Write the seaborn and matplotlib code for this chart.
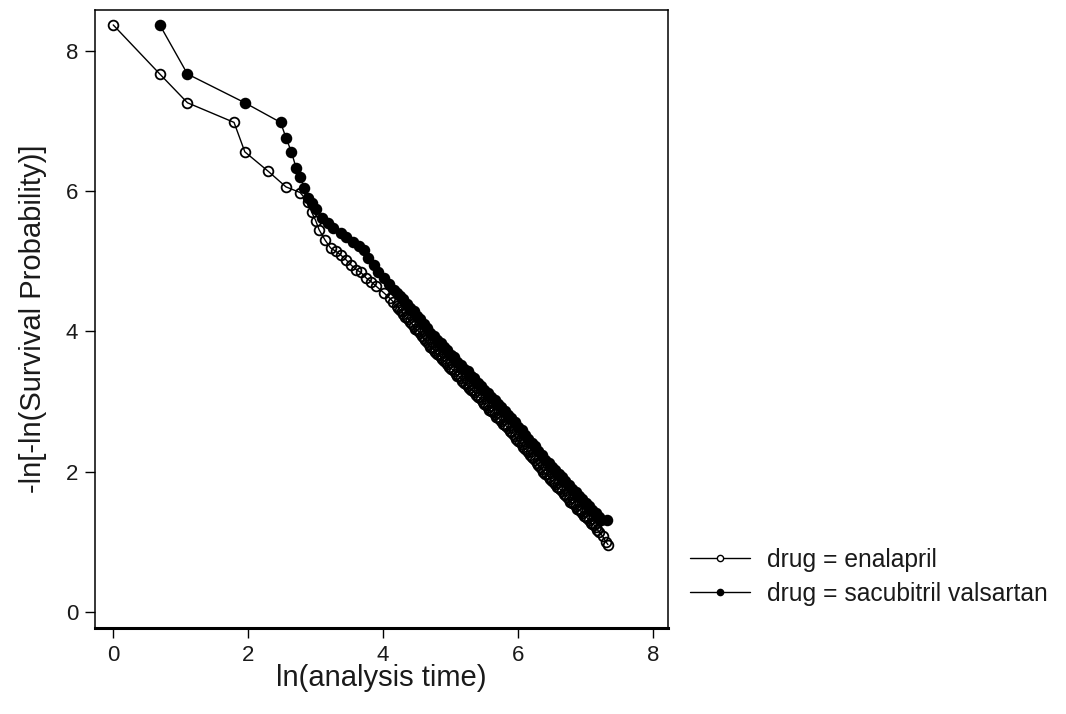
import matplotlib
matplotlib.use("Agg")
import matplotlib.pyplot as plt
from matplotlib.lines import Line2D
import seaborn as sns
import pandas as pd

# ---- data ----
enalapril_x = [0.00, 0.69, 1.10, 1.79, 1.95, 2.30, 2.56, 2.77, 2.88, 2.94, 3.00, 3.05, 3.14, 3.22,
               3.30, 3.37, 3.45, 3.52, 3.60, 3.67, 3.75, 3.82, 3.90, 4.01, 4.10, 4.15,
               4.20, 4.25, 4.30, 4.35, 4.40, 4.45, 4.50, 4.55, 4.60, 4.65, 4.70, 4.75, 4.80, 4.85,
               4.90, 4.95, 5.00, 5.05, 5.10, 5.15, 5.20, 5.25, 5.30, 5.35, 5.40, 5.45, 5.50, 5.55,
               5.60, 5.65, 5.70, 5.75, 5.80, 5.85, 5.90, 5.95, 6.00, 6.05, 6.10, 6.15, 6.20, 6.25,
               6.30, 6.35, 6.40, 6.45, 6.50, 6.55, 6.60, 6.65, 6.70, 6.75, 6.80, 6.85, 6.90, 6.95,
               7.00, 7.05, 7.10, 7.15, 7.20, 7.25, 7.30, 7.33]
enalapril_y = [8.37, 7.67, 7.26, 6.98, 6.56, 6.28, 6.06, 5.98, 5.85, 5.70, 5.58, 5.45, 5.30, 5.19,
               5.14, 5.09, 5.02, 4.95, 4.88, 4.84, 4.76, 4.71, 4.64, 4.55, 4.47, 4.42,
               4.36, 4.31, 4.25, 4.20, 4.13, 4.08, 4.02, 3.97, 3.90, 3.85, 3.78, 3.74, 3.68, 3.64,
               3.58, 3.53, 3.47, 3.43, 3.37, 3.33, 3.27, 3.22, 3.17, 3.13, 3.07, 3.03, 2.97, 2.92,
               2.86, 2.82, 2.76, 2.72, 2.66, 2.62, 2.56, 2.51, 2.44, 2.39, 2.32, 2.28, 2.21, 2.16,
               2.09, 2.04, 1.97, 1.93, 1.86, 1.82, 1.76, 1.72, 1.66, 1.61, 1.55, 1.51, 1.45, 1.41,
               1.35, 1.31, 1.25, 1.21, 1.14, 1.08, 1.00, 0.96]
# extra enalapril points inside the dense band
enalapril_band_x = [4.225, 4.275, 4.325, 4.375, 4.425, 4.475, 4.525, 4.575, 4.625, 4.675,
                    4.725, 4.775, 4.825, 4.875, 4.925, 4.975, 5.025, 5.075, 5.125, 5.175,
                    5.225, 5.275, 5.325, 5.375, 5.425, 5.475, 5.525, 5.575, 5.625, 5.675,
                    5.725, 5.775, 5.825, 5.875, 5.925, 5.975, 6.025, 6.075, 6.125, 6.175,
                    6.225, 6.275, 6.325, 6.375, 6.425, 6.475, 6.525, 6.575, 6.625, 6.675,
                    6.725, 6.775, 6.825, 6.875, 6.925, 6.975, 7.025, 7.075, 7.125, 7.175]
enalapril_band_y = [4.34, 4.29, 4.21, 4.17, 4.11, 4.04, 4.00, 3.93, 3.88, 3.82,
                    3.77, 3.70, 3.67, 3.60, 3.56, 3.49, 3.46, 3.39, 3.36, 3.29,
                    3.25, 3.19, 3.16, 3.09, 3.06, 2.99, 2.95, 2.88, 2.85, 2.78,
                    2.75, 2.68, 2.65, 2.58, 2.54, 2.47, 2.42, 2.35, 2.31, 2.24,
                    2.19, 2.12, 2.07, 2.00, 1.96, 1.89, 1.85, 1.78, 1.75, 1.68,
                    1.64, 1.57, 1.54, 1.47, 1.44, 1.37, 1.34, 1.27, 1.24, 1.17]

sacubitril_x = [0.69, 1.10, 1.95, 2.48, 2.56, 2.64, 2.71, 2.77, 2.83, 2.89, 2.94, 3.00, 3.09, 3.18,
                3.26, 3.37, 3.45, 3.55, 3.64, 3.71, 3.78, 3.86, 3.93, 4.01, 4.08, 4.16,
                4.20, 4.25, 4.30, 4.35, 4.40, 4.45, 4.50, 4.55, 4.60, 4.65, 4.70, 4.75, 4.80, 4.85,
                4.90, 4.95, 5.00, 5.05, 5.10, 5.15, 5.20, 5.25, 5.30, 5.35, 5.40, 5.45, 5.50, 5.55,
                5.60, 5.65, 5.70, 5.75, 5.80, 5.85, 5.90, 5.95, 6.00, 6.05, 6.10, 6.15, 6.20, 6.25,
                6.30, 6.35, 6.40, 6.45, 6.50, 6.55, 6.60, 6.65, 6.70, 6.75, 6.80, 6.85, 6.90, 6.95,
                7.00, 7.05, 7.10, 7.15, 7.20, 7.23, 7.32]
sacubitril_y = [8.37, 7.67, 7.26, 6.98, 6.76, 6.56, 6.33, 6.20, 6.05, 5.90, 5.83, 5.75, 5.62, 5.55,
                5.48, 5.40, 5.35, 5.28, 5.22, 5.16, 5.05, 4.95, 4.85, 4.76, 4.67, 4.59,
                4.55, 4.51, 4.46, 4.39, 4.33, 4.29, 4.22, 4.17, 4.10, 4.05, 3.98, 3.94, 3.88, 3.84,
                3.78, 3.73, 3.67, 3.63, 3.57, 3.52, 3.47, 3.43, 3.37, 3.33, 3.27, 3.22, 3.17, 3.12,
                3.06, 3.02, 2.96, 2.92, 2.86, 2.81, 2.76, 2.71, 2.64, 2.59, 2.52, 2.47, 2.41, 2.36,
                2.29, 2.24, 2.17, 2.12, 2.06, 2.02, 1.96, 1.92, 1.86, 1.81, 1.75, 1.71, 1.65, 1.61,
                1.55, 1.51, 1.45, 1.41, 1.35, 1.31, 1.31]

series_labels = ["drug = enalapril", "drug = sacubitril valsartan"]
x_ticks = [0, 2, 4, 6, 8]
y_ticks = [0, 2, 4, 6, 8]
x_label = "ln(analysis time)"
y_label = "-ln[-ln(Survival Probability)]"

# ---- style ----
sns.set_style("ticks")
plt.rcParams["font.family"] = ["Liberation Sans", "DejaVu Sans"]
text_color = "#1a1a1a"

fig = plt.figure(figsize=(10.66, 7.14), dpi=100)
ax = fig.add_axes([95 / 1066, 1 - 628 / 714, 573 / 1066, 618.5 / 714])

df_e = pd.DataFrame({"x": enalapril_x + enalapril_band_x,
                     "y": enalapril_y + enalapril_band_y})
df_s = pd.DataFrame({"x": sacubitril_x, "y": sacubitril_y})

sns.lineplot(data=df_e, x="x", y="y", sort=True, estimator=None, ax=ax,
             color="black", linewidth=1.0, marker="o", markersize=7.0,
             markerfacecolor="none", markeredgecolor="black", markeredgewidth=1.3,
             zorder=2)
sns.lineplot(data=df_s, x="x", y="y", sort=True, estimator=None, ax=ax,
             color="black", linewidth=1.0, marker="o", markersize=7.0,
             markerfacecolor="black", markeredgecolor="black", markeredgewidth=1.3,
             zorder=3)

ax.set_xlim(-0.27, 8.22)
ax.set_ylim(-0.23, 8.59)
ax.set_xticks(x_ticks)
ax.set_yticks(y_ticks)
ax.set_xlabel(x_label, fontsize=21, color=text_color, labelpad=-1)
ax.set_ylabel(y_label, fontsize=21, color=text_color, labelpad=14)
ax.tick_params(axis="both", direction="out", length=7, width=1.0, labelsize=16,
               colors="black", labelcolor=text_color, pad=5)

for side in ["left", "top", "right"]:
    ax.spines[side].set_visible(True)
    ax.spines[side].set_linewidth(1.1)
    ax.spines[side].set_color("black")
ax.spines["bottom"].set_linewidth(2.2)
ax.spines["bottom"].set_color("black")

handles = [
    Line2D([0], [0], color="black", linewidth=1.0, marker="o", markersize=4.5,
           markerfacecolor="white", markeredgecolor="black"),
    Line2D([0], [0], color="black", linewidth=1.0, marker="o", markersize=4.5,
           markerfacecolor="black", markeredgecolor="black"),
]
fig.legend(handles, series_labels, loc="center left",
           bbox_to_anchor=(690 / 1066, 1 - 577 / 714), frameon=False,
           fontsize=17.7, labelcolor=text_color, handlelength=2.45,
           handletextpad=0.7, labelspacing=0.4, borderaxespad=0, borderpad=0)

fig.savefig("out.png", dpi=100, facecolor="white")
